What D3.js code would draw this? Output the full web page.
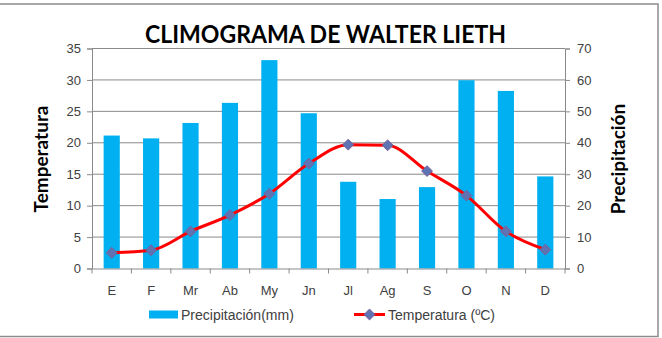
<!DOCTYPE html>
<html>
<head>
<meta charset="utf-8">
<script src="https://cdn.jsdelivr.net/npm/d3@7"></script>
<style>
  html, body { margin: 0; padding: 0; background: #fff; }
  svg { display: block; }
</style>
</head>
<body>
<div id="chart"></div>
<script>
// Climograma data
const months = ['E', 'F', 'Mr', 'Ab', 'My', 'Jn', 'Jl', 'Ag', 'S', 'O', 'N', 'D'];
const precipitation = [42.3, 41.4, 46.3, 52.7, 66.3, 49.4, 27.6, 22.1, 25.9, 59.9, 56.5, 29.3];
const temperature = [2.5, 2.9, 5.9, 8.5, 11.9, 16.7, 19.7, 19.6, 15.5, 11.6, 5.9, 3.0];
const tempTicks = [0, 5, 10, 15, 20, 25, 30, 35];
const precTicks = [0, 10, 20, 30, 40, 50, 60, 70];

const W = 662, H = 338;
const margin = { top: 48.5, right: 97, bottom: 69.5, left: 92 };
const width = W - margin.left - margin.right;
const height = H - margin.top - margin.bottom;

const svg = d3.select('#chart').append('svg')
  .attr('width', W)
  .attr('height', H);

// outer chart frame
svg.append('rect')
  .attr('x', -2).attr('y', 4)
  .attr('width', 660).attr('height', 332.5)
  .attr('fill', 'none')
  .attr('stroke', '#8c8c8c')
  .attr('stroke-width', 1.5);

const g = svg.append('g').attr('transform', `translate(${margin.left},${margin.top})`);

const x = d3.scaleBand().domain(months).range([0, width]).paddingInner(0.59).paddingOuter(0.295);
const xPoint = (m) => x(m) + x.bandwidth() / 2;
const yT = d3.scaleLinear().domain([0, 35]).range([height, 0]);
const yP = d3.scaleLinear().domain([0, 70]).range([height, 0]);

// gridlines
g.selectAll('.grid')
  .data(tempTicks.slice(1))
  .enter().append('line')
  .attr('x1', 0).attr('x2', width)
  .attr('y1', (d) => yT(d)).attr('y2', (d) => yT(d))
  .attr('stroke', '#8a8a8a')
  .attr('stroke-width', 1);

// bars: precipitation
g.selectAll('.bar')
  .data(months)
  .enter().append('rect')
  .attr('x', (m) => x(m))
  .attr('y', (m, i) => yP(precipitation[i]))
  .attr('width', x.bandwidth())
  .attr('height', (m, i) => height - yP(precipitation[i]))
  .attr('fill', '#00b0f0');

// axes
const labelFont = '"Liberation Sans", Arial, sans-serif';
const leftAxis = g.append('g')
  .call(d3.axisLeft(yT).tickValues(tempTicks).tickSize(5).tickPadding(6));
const rightAxis = g.append('g')
  .attr('transform', `translate(${width},0)`)
  .call(d3.axisRight(yP).tickValues(precTicks).tickSize(5).tickPadding(7));
const bottomAxis = g.append('g')
  .attr('transform', `translate(0,${height})`)
  .call(d3.axisBottom(x).tickSize(0).tickPadding(17));

[leftAxis, rightAxis, bottomAxis].forEach((a) => {
  a.select('.domain').attr('stroke', '#8a8a8a');
  a.selectAll('.tick line').attr('stroke', '#8a8a8a');
  a.selectAll('.tick text')
    .attr('fill', '#404040')
    .attr('font-size', 13)
    .attr('font-family', labelFont);
});

// category boundary tick marks under the x axis
const boundaries = d3.range(months.length + 1).map((i) => i * width / months.length);
g.selectAll('.xtick')
  .data(boundaries)
  .enter().append('line')
  .attr('x1', (d) => d).attr('x2', (d) => d)
  .attr('y1', height).attr('y2', height + 5)
  .attr('stroke', '#8a8a8a');

// temperature line
const line = d3.line()
  .x((d, i) => xPoint(months[i]))
  .y((d) => yT(d))
  .curve(d3.curveMonotoneX);
g.append('path')
  .datum(temperature)
  .attr('d', line)
  .attr('fill', 'none')
  .attr('stroke', '#ff0000')
  .attr('stroke-width', 3)
  .attr('stroke-linejoin', 'round');

const diamond = d3.symbol().type(d3.symbolDiamond2).size(75);
g.selectAll('.marker')
  .data(temperature)
  .enter().append('path')
  .attr('d', diamond)
  .attr('transform', (d, i) => `translate(${xPoint(months[i])},${yT(d)})`)
  .attr('fill', '#5f73b3')
  .attr('stroke', '#7b5f9a')
  .attr('stroke-width', 1);

// title
svg.append('text')
  .attr('x', 145).attr('y', 43)
  .attr('font-family', 'Lato, "Open Sans", sans-serif')
  .attr('font-weight', 700)
  .attr('font-size', 24)
  .attr('textLength', 361)
  .attr('lengthAdjust', 'spacingAndGlyphs')
  .attr('fill', '#000')
  .text('CLIMOGRAMA DE WALTER LIETH');

// axis titles
svg.append('text')
  .attr('transform', 'translate(48,159) rotate(-90)')
  .attr('text-anchor', 'middle')
  .attr('font-family', 'Lato, "Open Sans", sans-serif')
  .attr('font-weight', 700)
  .attr('font-size', 19)
  .attr('fill', '#000')
  .text('Temperatura');
svg.append('text')
  .attr('transform', 'translate(625,159) rotate(-90)')
  .attr('text-anchor', 'middle')
  .attr('font-family', 'Lato, "Open Sans", sans-serif')
  .attr('font-weight', 700)
  .attr('font-size', 19)
  .attr('fill', '#000')
  .text('Precipitación');

// legend
const legend = svg.append('g');
legend.append('rect')
  .attr('x', 149).attr('y', 310.5)
  .attr('width', 29).attr('height', 8)
  .attr('fill', '#00b0f0');
legend.append('text')
  .attr('x', 181).attr('y', 319.5)
  .attr('font-family', labelFont).attr('font-size', 14).attr('fill', '#404040')
  .text('Precipitación(mm)');
legend.append('line')
  .attr('x1', 354).attr('x2', 385)
  .attr('y1', 314.5).attr('y2', 314.5)
  .attr('stroke', '#ff0000').attr('stroke-width', 3);
legend.append('path')
  .attr('d', diamond)
  .attr('transform', 'translate(369.5,314.5)')
  .attr('fill', '#5f73b3')
  .attr('stroke', '#7b5f9a');
legend.append('text')
  .attr('x', 388).attr('y', 319.5)
  .attr('font-family', labelFont).attr('font-size', 14).attr('fill', '#404040')
  .text('Temperatura (ºC)');
</script>
</body>
</html>
